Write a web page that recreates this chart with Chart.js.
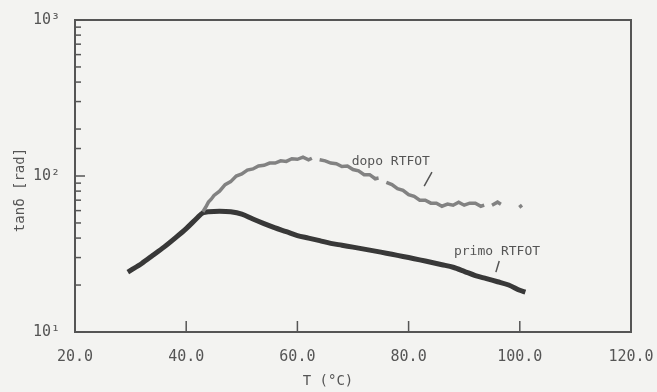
<!DOCTYPE html>
<html>
<head>
<meta charset="utf-8">
<script src="https://cdn.jsdelivr.net/npm/chart.js@4/dist/chart.umd.min.js"></script>
<style>
  html, body { margin: 0; padding: 0; background: #f3f3f1; }
  canvas { display: block; }
</style>
</head>
<body>
<canvas id="tanChart" width="657" height="392"></canvas>
<script>
// valori (tan delta in rad, T in gradi C)
const tempPrimo = [29.5, 30, 32, 34, 36, 38, 40, 42, 43, 44, 46, 48, 50, 52, 54, 56, 58, 60, 62, 64, 66, 68, 70, 72, 74, 76, 78, 80, 82, 84, 86, 88, 90, 92, 94, 96, 98, 100, 101];
const tanPrimo  = [24.2, 24.8, 27.5, 31, 35, 40, 46, 54, 58, 59, 59.5, 59, 57, 53, 49.5, 46.5, 44, 41.5, 40, 38.5, 37, 36, 35, 34, 33, 32, 31, 30, 29, 28, 27, 26, 24.5, 23, 22, 21, 20, 18.5, 18];

const tempDopo = [43, 43.5, 44, 44.5, 45, 46, 47, 48, 49, 50, 51, 52, 53, 54, 55, 56, 57, 58, 59, 60, 61, 62, 62.6, 63.2, 64, 65, 66, 67, 68, 69, 70, 71, 72, 73, 74, 74.6, 75.3, 76, 77, 78, 79, 80, 81, 82, 83, 84, 85, 86, 87, 88, 89, 90, 91, 92, 93, 93.6, 94.2, 95, 96, 96.6, 97.2, 99.9, 100.4];
const tanDopo  = [59, 63, 68, 71, 75, 80, 88, 92, 100, 103, 109, 111, 116, 117, 121, 121, 125, 124, 129, 128, 132, 127, 130, null, 127, 125, 121, 120, 115, 116, 110, 108, 102, 102, 96, 97, null, 91, 88, 83, 81, 76, 74, 70, 70, 67, 67, 64, 66, 65, 68, 65, 67, 67, 64, 65, null, 65, 68, 66, null, 63, 65];

const xTickValues = [20, 40, 60, 80, 100, 120];
const yLabelValues = [10, 100, 1000];
const yLabelTexts = ['10\u00b9', '10\u00b2', '10\u00b3'];

const inkColor = '#555555';
const monoFont = "'DejaVu Sans Mono', monospace";

function toPoints(xs, ys) {
  return xs.map((x, i) => ({ x: x, y: ys[i] }));
}

// cornice, tacche interne, titoli degli assi e didascalie
const framePlugin = {
  id: 'framePlugin',
  afterDraw(chart) {
    const ctx = chart.ctx;
    const area = chart.chartArea;
    const xs = chart.scales.x;
    const ys = chart.scales.y;
    ctx.save();
    ctx.strokeStyle = inkColor;
    ctx.lineWidth = 2;
    ctx.strokeRect(area.left, area.top, area.right - area.left, area.bottom - area.top);

    ctx.lineWidth = 1.5;
    ys.ticks.forEach(t => {
      const y = ys.getPixelForValue(t.value);
      const major = yLabelValues.includes(t.value);
      ctx.beginPath();
      ctx.moveTo(area.left, y);
      ctx.lineTo(area.left + (major ? 10 : 6), y);
      ctx.stroke();
    });
    xTickValues.slice(1, -1).forEach(v => {
      const x = xs.getPixelForValue(v);
      ctx.beginPath();
      ctx.moveTo(x, area.bottom);
      ctx.lineTo(x, area.bottom - 11);
      ctx.stroke();
    });

    ctx.fillStyle = inkColor;
    ctx.textAlign = 'center';
    ctx.textBaseline = 'middle';
    ctx.font = '14px ' + monoFont;
    ctx.fillText('T (\u00b0C)', 328, 381);

    ctx.save();
    ctx.translate(20, 190);
    ctx.rotate(-Math.PI / 2);
    ctx.fillText('tan\u03b4 [rad]', 0, 0);
    ctx.restore();

    ctx.font = '13px ' + monoFont;
    ctx.fillText('dopo RTFOT', xs.getPixelForValue(76.8), ys.getPixelForValue(123));
    ctx.fillText('primo RTFOT', xs.getPixelForValue(95.9), ys.getPixelForValue(32.6));

    ctx.lineWidth = 1.5;
    ctx.beginPath();
    ctx.moveTo(xs.getPixelForValue(84.2), ys.getPixelForValue(106));
    ctx.lineTo(xs.getPixelForValue(82.8), ys.getPixelForValue(86));
    ctx.moveTo(xs.getPixelForValue(96.3), ys.getPixelForValue(28.5));
    ctx.lineTo(xs.getPixelForValue(95.7), ys.getPixelForValue(24.2));
    ctx.stroke();
    ctx.restore();
  }
};

new Chart(document.getElementById('tanChart'), {
  type: 'line',
  data: {
    datasets: [
      {
        label: 'dopo RTFOT',
        data: toPoints(tempDopo, tanDopo),
        borderColor: '#828282',
        borderWidth: 3.5,
        pointRadius: 0,
        spanGaps: false,
        tension: 0
      },
      {
        label: 'primo RTFOT',
        data: toPoints(tempPrimo, tanPrimo),
        borderColor: '#383838',
        borderWidth: 5,
        pointRadius: 0,
        tension: 0.3
      }
    ]
  },
  options: {
    responsive: false,
    animation: false,
    layout: { padding: { left: 0, top: 20, right: 26, bottom: 0 } },
    plugins: {
      legend: { display: false },
      tooltip: { enabled: false }
    },
    scales: {
      x: {
        type: 'linear',
        min: 20,
        max: 120,
        afterFit: s => { s.height = 60; s.paddingLeft = 0; s.paddingRight = 0; },
        afterBuildTicks: s => { s.ticks = xTickValues.map(v => ({ value: v })); },
        grid: { display: false },
        border: { display: false },
        ticks: {
          color: inkColor,
          font: { family: monoFont, size: 15 },
          padding: 8,
          maxRotation: 0,
          callback: v => v.toFixed(1)
        }
      },
      y: {
        type: 'logarithmic',
        min: 10,
        max: 1000,
        afterFit: s => { s.width = 75; s.paddingTop = 0; s.paddingBottom = 0; },
        grid: { display: false },
        border: { display: false },
        ticks: {
          color: inkColor,
          font: { family: monoFont, size: 15 },
          padding: 7,
          autoSkip: false,
          callback: v => {
            const i = yLabelValues.indexOf(v);
            return i >= 0 ? yLabelTexts[i] : '';
          }
        }
      }
    }
  },
  plugins: [framePlugin]
});
</script>
</body>
</html>
